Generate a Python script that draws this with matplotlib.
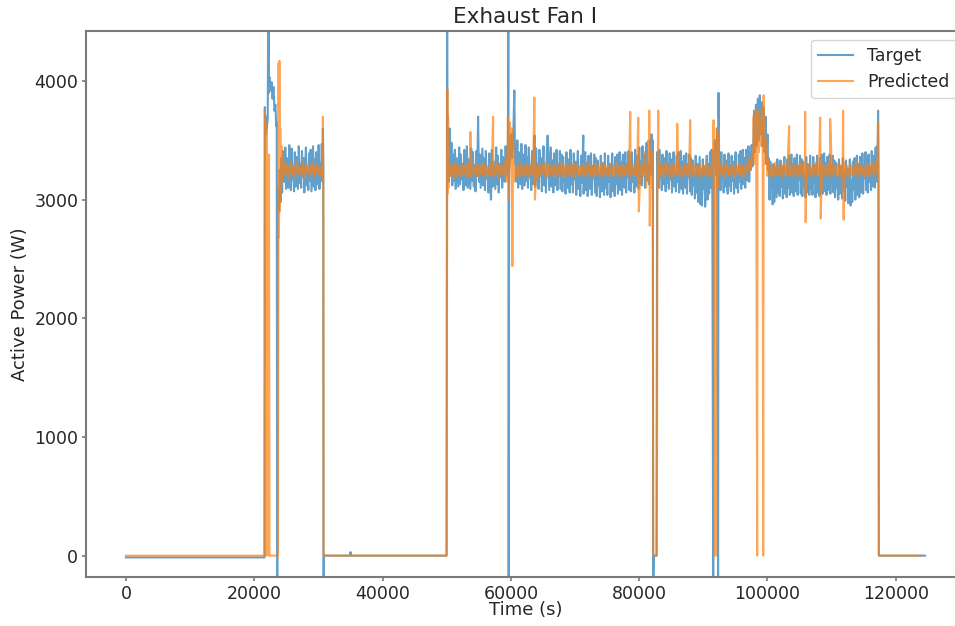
import numpy as np
import matplotlib
matplotlib.use("Agg")
import matplotlib.pyplot as plt

# ---------------- data ----------------
title = "Exhaust Fan I"
x_label = "Time (s)"
y_label = "Active Power (W)"
series_names = ["Target", "Predicted"]
x_ticks = [0, 20000, 40000, 60000, 80000, 100000, 120000]
y_ticks = [0, 1000, 2000, 3000, 4000]

# ---- Target: isolated points (time, value) ----
target_events = [
    (0, -15), (21600, -15),
    (21650, 3780), (21750, 3550), (21850, 3700), (21950, 3600), (22100, 3680),
    (22230, 5200), (22300, 3900), (22400, 4030), (22550, 3920), (22700, 3990),
    (22850, 3850), (23000, 3950), (23150, 3750), (23300, 3800), (23420, 3620),
    (23500, 3650), (23580, -400), (23660, 3100), (23750, 2900),
    (30700, 3600), (30760, 3300), (30800, -400), (30860, 0), (34900, 0),
    (35000, 30), (35100, 0), (49980, 0), (50060, 5200), (50120, 3400),
    (59540, 3400), (59610, 5200), (59660, -400), (59720, 3200), (60000, 3550),
    (60200, 3350), (60400, 3600), (60540, 3920), (60650, 3300),
    (71290, 3540),
    (82120, 3500), (82180, -400), (82300, 0), (82700, 0), (82800, 3400),
    (91540, -400), (91620, 3300), (91800, 3500), (92000, 3200), (92150, 3600),
    (92300, -400), (92360, 3900), (92450, 3400),
    (97770, 3350), (97900, 3750), (98050, 3400), (98200, 3800), (98350, 3450),
    (98500, 3850), (98650, 3500), (98800, 3880), (98950, 3550), (99100, 3820),
    (99250, 3450), (99400, 3780), (99550, 3400), (99700, 3700), (99850, 3300),
    (100000, 3550), (100110, 3250),
    (117180, 3450), (117240, 3750), (117300, 3300), (117360, 0), (124560, 0),
]

# ---- Target: noisy stretches (start, end, values) ----
target_p1 = (23850, 30650, [
    2900, 3250, 2980, 3350, 3060, 3410, 3200, 3150, 3440, 3090, 3350, 3240, 3100, 3460,
    3320, 3080, 3430, 3170, 3270, 3070, 3400, 3110, 3360, 3220, 3090, 3450, 3140, 3300,
    3100, 3410, 3190, 3350, 3060, 3280, 3440, 3120, 3230, 3080, 3390, 3160, 3420, 3070,
    3260, 3450, 3110, 3340, 3080, 3400, 3180, 3130, 3460, 3090, 3310, 3210, 3470, 3150])
target_p2 = (50200, 59450, [
    3550, 3150, 3600, 3200, 3480, 3120, 3380, 3160, 3420, 3090, 3350, 3230, 3110, 3440,
    3130, 3380, 3170, 3300, 3080, 3420, 3190, 3120, 3450, 3100, 3340, 3220, 3090, 3430,
    3160, 3400, 3110, 3290, 3070, 3410, 3200, 3700, 3150, 3380, 3100, 3260, 3430, 3120,
    3350, 3080, 3410, 3180, 3240, 3060, 3390, 3140, 3000, 3420, 3110, 3320, 3210, 3090,
    3440, 3130, 3370, 3060, 3300, 3190, 3420, 3100, 3360, 3240, 3150, 3450, 3200, 3350])
target_p3 = (60750, 82050, [
    3450, 3150, 3500, 3100, 3400, 3220, 3130, 3470, 3090, 3380, 3250, 3120, 3460, 3160,
    3360, 3100, 3440, 3190, 3280, 3080, 3410, 3130, 3370, 3540, 3110, 3430, 3170, 3300,
    3090, 3420, 3200, 3350, 3070, 3290, 3450, 3120, 3240, 3060, 3400, 3540, 3410, 3080,
    3270, 3440, 3110, 3330, 3060, 3390, 3180, 3120, 3420, 3080, 3300, 3200, 3410, 3090,
    3380, 3070, 3360, 3150, 3240, 3050, 3400, 3100, 3340, 3210, 3060, 3420, 3130, 3290,
    3060, 3390, 3170, 3320, 3040, 3260, 3410, 3090, 3210, 3030, 3370, 3140, 3390, 3050,
    3240, 3400, 3080, 3310, 3030, 3370, 3150, 3090, 3390, 3040, 3280, 3180, 3380, 3060,
    3350, 3030, 3330, 3120, 3220, 3020, 3370, 3070, 3310, 3190, 3040, 3390, 3100, 3260,
    3040, 3370, 3150, 3300, 3020, 3240, 3390, 3070, 3200, 3030, 3360, 3130, 3380, 3050,
    3250, 3400, 3080, 3320, 3040, 3380, 3160, 3100, 3400, 3060, 3300, 3190, 3410, 3080,
    3380, 3070, 3400, 3150, 3260, 3060, 3420, 3110, 3370, 3230, 3090, 3440, 3140, 3320,
    3120, 3450, 3230, 3380, 3100, 3320, 3480, 3160, 3290, 3130, 3500, 3220, 3550, 3200])
target_p4 = (82900, 91400, [
    3400, 3100, 3420, 3180, 3290, 3080, 3380, 3130, 3350, 3220, 3070, 3410, 3140, 3300,
    3090, 3390, 3170, 3340, 3060, 3280, 3400, 3110, 3230, 3070, 3370, 3150, 3400, 3060,
    3260, 3410, 3090, 3320, 3050, 3370, 3160, 3100, 3390, 3050, 3300, 3190, 3380, 3070,
    3350, 3040, 3330, 3120, 3220, 3010, 3370, 3060, 3300, 2980, 3180, 3360, 2960, 3250,
    2950, 3340, 3090, 3280, 2940, 3220, 3370, 3000, 3300, 3050, 3400, 3100, 3420, 3150])
target_p5 = (92550, 97650, [
    3350, 3080, 3400, 3170, 3260, 3060, 3380, 3110, 3330, 3200, 3050, 3390, 3120, 3290,
    3070, 3370, 3160, 3320, 3050, 3270, 3400, 3100, 3220, 3060, 3380, 3150, 3410, 3090,
    3280, 3420, 3130, 3350, 3100, 3420, 3200, 3160, 3450, 3150, 3400, 3250, 3460, 3280])
target_p6 = (100200, 117100, [
    3350, 3000, 3320, 3100, 3200, 2960, 3300, 2980, 3270, 3140, 3020, 3340, 3060, 3250,
    3030, 3330, 3110, 3280, 3010, 3220, 3360, 3050, 3180, 3020, 3340, 3100, 3370, 3040,
    3230, 3380, 3060, 3300, 3030, 3350, 3140, 3070, 3380, 3040, 3280, 3170, 3370, 3050,
    3340, 3030, 3320, 3110, 3210, 3020, 3360, 3060, 3300, 3180, 3040, 3370, 3090, 3250,
    3040, 3360, 3140, 3290, 3020, 3230, 3370, 3060, 3190, 3030, 3350, 3120, 3380, 3050,
    3240, 3390, 3070, 3310, 3040, 3360, 3150, 3080, 3380, 3050, 3290, 3170, 3370, 3060,
    3330, 3020, 3310, 3100, 3200, 3000, 3340, 3050, 3280, 3160, 3010, 3350, 3070, 3230,
    2990, 3330, 3110, 3260, 2970, 3200, 3340, 2950, 3160, 2980, 3320, 3080, 3350, 3000,
    3220, 3370, 3040, 3300, 3020, 3360, 3140, 3060, 3390, 3050, 3290, 3180, 3400, 3080,
    3360, 3060, 3380, 3150, 3270, 3080, 3410, 3110, 3370, 3220, 3100, 3440, 3150, 3450])

# ---- Predicted: isolated points (time, value) ----
predicted_events = [
    (0, 0), (21600, 0),
    (21650, 3750), (21720, 100), (21800, 3500), (21870, 0), (21950, 3650),
    (22020, 200), (22100, 3300), (22200, 0), (22300, 3380), (22380, 0),
    (23700, 0), (23790, 4150), (23850, 2680), (23920, 4170), (23990, 2900),
    (24060, 3600), (24150, 3000), (24250, 3450),
    (30700, 3700), (30760, 3200), (30800, 0), (49980, 0), (50030, 1720),
    (50100, 3930), (50150, 3050), (50220, 3700), (50300, 3100),
    (53690, 3570), (57230, 3700),
    (59540, 3700), (59610, 3400), (59700, 3000), (59850, 3650), (60000, 3300),
    (60120, 3600), (60230, 2440), (60350, 3500), (60500, 3150),
    (63660, 3860), (63750, 3000), (78610, 3740), (79860, 3690), (79950, 2900),
    (81400, 3500), (81570, 3750), (81650, 2780),
    (82120, 3400), (82200, 0), (82750, 0), (82850, 3000), (82970, 3750),
    (83050, 3100),
    (85930, 3640), (87950, 3670),
    (91500, 3300), (91600, 3670), (91700, 0), (91900, 3500), (92000, 0),
    (92100, 3600), (92250, 3100), (92400, 3570), (92500, 3250),
    (97770, 3350), (97850, 3700), (97950, 3300), (98050, 3600), (98150, 3750),
    (98250, 3400), (98390, 0), (98450, 3500), (98550, 3750), (98650, 3400),
    (98750, 3700), (98850, 3500), (98950, 3650), (99050, 3450), (99150, 3800),
    (99250, 3600), (99330, 0), (99400, 3880), (99500, 3500), (99600, 3650),
    (99700, 3300), (99850, 3500), (100000, 3200), (100110, 3350),
    (103380, 3620), (105870, 3740), (105950, 2810), (108210, 3690),
    (108300, 2840), (109770, 3680), (111790, 3750), (111870, 2830),
    (117180, 3300), (117240, 3650), (117300, 3100), (117360, 0), (123900, 0),
]

# ---- Predicted: noisy stretches (start, end, values) ----
predicted_p1 = (24350, 30650, [
    3150, 3320, 3200, 3300, 3180, 3310, 3210, 3290, 3190, 3320,
    3220, 3280, 3200, 3310, 3190, 3300, 3220, 3290, 3200, 3320,
    3190, 3300, 3210, 3280, 3200, 3320])
predicted_p2 = (50400, 59450, [
    3300, 3200, 3290, 3180, 3310, 3200, 3280, 3190, 3300, 3210,
    3290, 3200, 3310, 3190, 3300, 3220, 3280, 3200, 3300, 3190,
    3290, 3210, 3310, 3200, 3280, 3190, 3300, 3210, 3290, 3200,
    3310, 3190, 3300, 3210, 3280, 3200, 3350, 3150])
predicted_p3 = (60600, 82050, [
    3300, 3200, 3290, 3190, 3310, 3210, 3280, 3200, 3300, 3190,
    3290, 3210, 3310, 3200, 3280, 3190, 3300, 3210, 3290, 3200,
    3310, 3190, 3300, 3210, 3280, 3200, 3300, 3190, 3290, 3210,
    3310, 3200, 3280, 3190, 3300, 3210, 3290, 3200, 3310, 3190,
    3300, 3210, 3280, 3200, 3300, 3190, 3290, 3210, 3310, 3200,
    3280, 3190, 3300, 3210, 3290, 3200, 3310, 3190, 3300, 3210,
    3280, 3200, 3300, 3190, 3290, 3210, 3310, 3200, 3280, 3190,
    3300, 3210, 3290, 3200, 3310, 3190, 3300, 3210, 3280, 3200,
    3350, 3150, 3300, 3200, 3400, 3100, 3320, 3180, 3450, 3100])
predicted_p4 = (83150, 91400, [
    3300, 3200, 3290, 3190, 3310, 3210, 3280, 3200, 3300, 3190,
    3290, 3210, 3310, 3200, 3280, 3190, 3300, 3210, 3290, 3200,
    3310, 3190, 3300, 3210, 3280, 3200, 3300, 3190, 3290, 3210,
    3310, 3200, 3280, 3190, 3300])
predicted_p5 = (92600, 97650, [
    3300, 3200, 3290, 3190, 3310, 3210, 3280, 3200, 3300, 3190,
    3290, 3210, 3310, 3200, 3280, 3190, 3300, 3220, 3350, 3250,
    3400])
predicted_p6 = (100200, 117100, [
    3300, 3200, 3290, 3190, 3310, 3210, 3280, 3200, 3300, 3190,
    3290, 3210, 3310, 3200, 3280, 3190, 3300, 3210, 3290, 3200,
    3310, 3190, 3300, 3210, 3280, 3200, 3300, 3190, 3290, 3210,
    3310, 3200, 3280, 3190, 3300, 3210, 3290, 3200, 3310, 3190,
    3300, 3210, 3280, 3200, 3300, 3190, 3290, 3210, 3310, 3200,
    3280, 3190, 3300, 3210, 3290, 3200, 3310, 3190, 3300, 3210,
    3280, 3200, 3300, 3190, 3290, 3210, 3310, 3200, 3320, 3230])


def assemble(events, stretches):
    t = [e[0] for e in events]
    v = [e[1] for e in events]
    for start, end, vals in stretches:
        t.extend(np.linspace(start, end, len(vals)))
        v.extend(vals)
    t = np.asarray(t, dtype=float)
    v = np.asarray(v, dtype=float)
    order = np.argsort(t, kind="stable")
    return t[order], v[order]


target_t, target_v = assemble(
    target_events, [target_p1, target_p2, target_p3, target_p4, target_p5, target_p6])
pred_t, pred_v = assemble(
    predicted_events, [predicted_p1, predicted_p2, predicted_p3, predicted_p4,
                       predicted_p5, predicted_p6])

# ---------------- plot ----------------
text_color = "#262626"
spine_color = "#7a7a7a"
plt.rcParams["font.family"] = ["DejaVu Sans"]

fig = plt.figure(figsize=(9.55, 6.26), dpi=100)
ax = fig.add_axes([86 / 955, 49 / 626, (965 - 86) / 955, (577 - 31) / 626])

ax.plot(target_t, target_v, color="#1f77b4", alpha=0.7, lw=1.5, label=series_names[0])
ax.plot(pred_t, pred_v, color="#ff7f0e", alpha=0.7, lw=1.5, label=series_names[1])

ax.set_xlim(-6228, 130788)
ax.set_ylim(-180, 4421)
ax.set_xticks(x_ticks)
ax.set_yticks(y_ticks)

ax.set_title(title, fontsize=15.5, color=text_color)
ax.set_xlabel(x_label, fontsize=13, color=text_color, labelpad=-1)
ax.set_ylabel(y_label, fontsize=13, color=text_color)

for s in ax.spines.values():
    s.set_color(spine_color)
    s.set_linewidth(1.5)
ax.tick_params(axis="both", labelsize=12.5, colors=spine_color, labelcolor=text_color,
               length=3, width=1.2, pad=2.5)

leg = ax.legend(loc="upper right", fontsize=12.5)
for txt in leg.get_texts():
    txt.set_color(text_color)

fig.savefig("out.png", dpi=100)
